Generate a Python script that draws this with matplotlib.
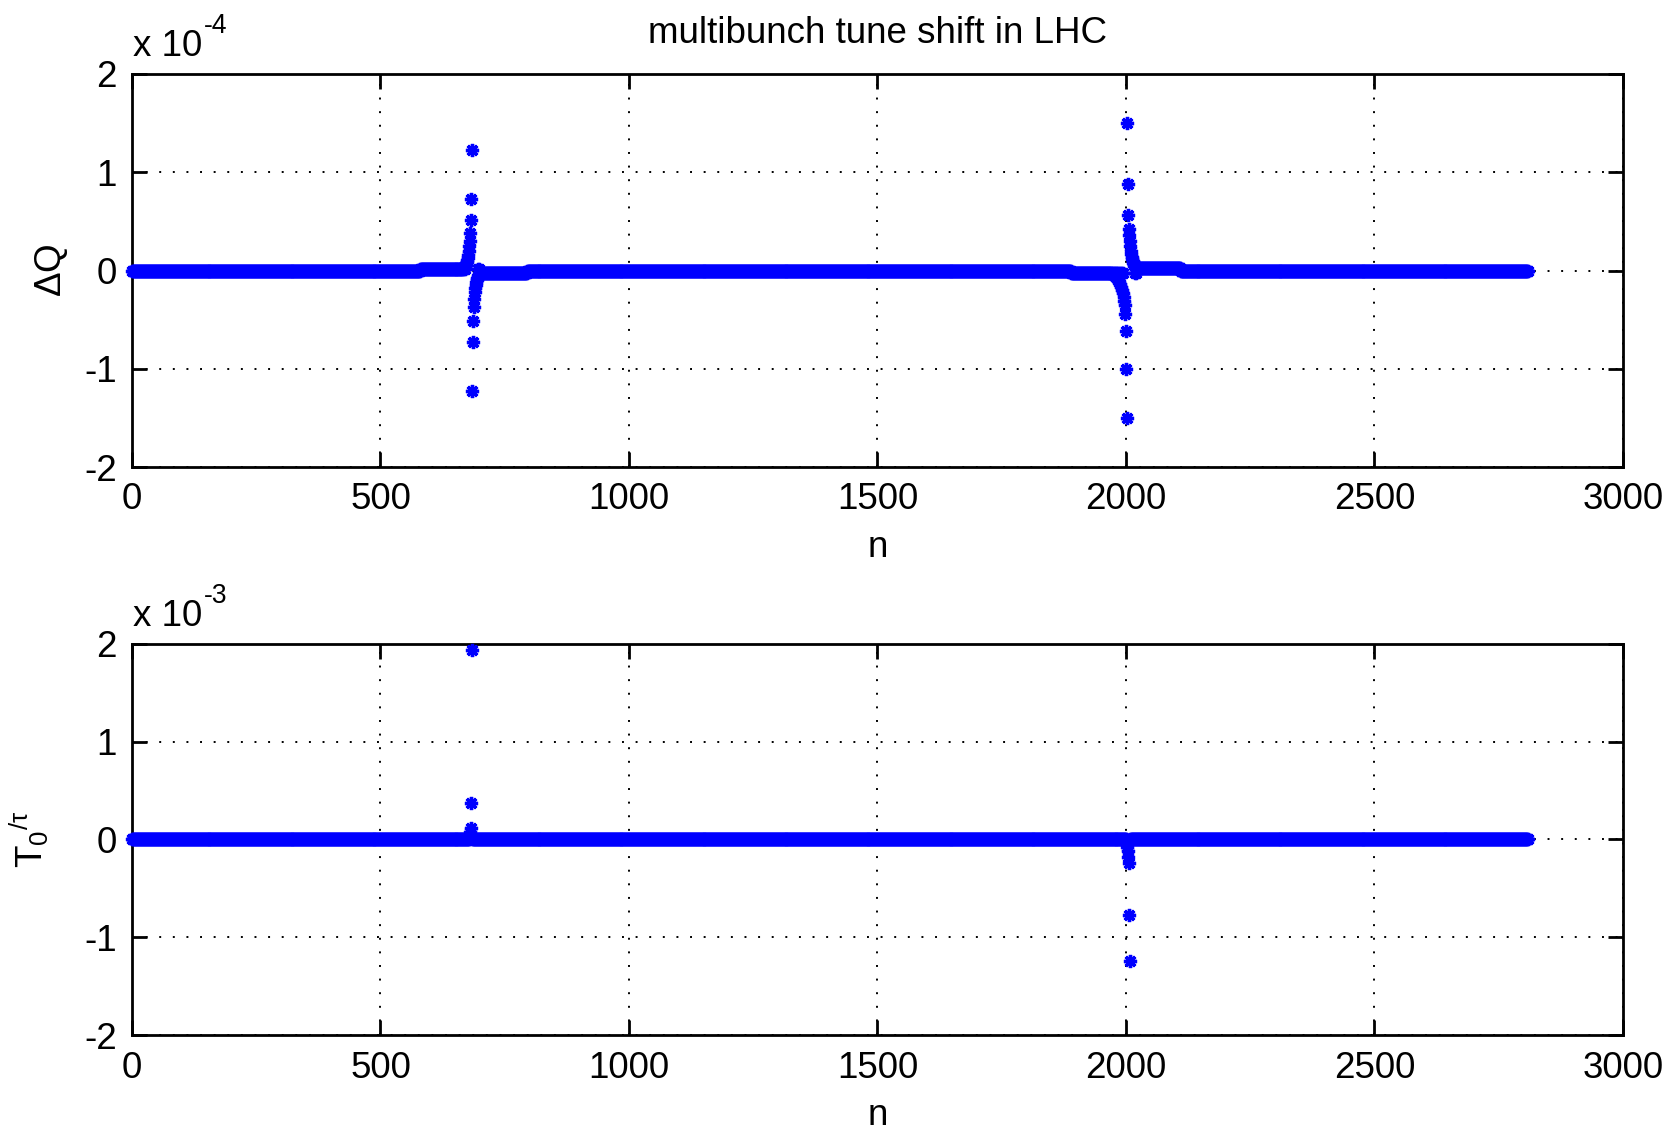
import numpy as np
import matplotlib
matplotlib.use("Agg")
import matplotlib.pyplot as plt
from matplotlib.ticker import FuncFormatter

plt.rcParams['font.family'] = ['Liberation Sans', 'DejaVu Sans']
plt.rcParams['mathtext.fontset'] = 'custom'
plt.rcParams['mathtext.rm'] = 'Liberation Sans'
plt.rcParams['mathtext.it'] = 'Liberation Sans'

N_BUNCH = 2808
FS = 26.5

# tune shift, units of 1e-4: plateaus (first bunch, level)
dq_step_start = [1, 580, 700, 795, 1890, 2022, 2110]
dq_step_level = [0.0, 0.02, -0.03, 0.0, -0.03, 0.03, 0.0]
# bunches close to the gaps
dq_spike_n = [666, 668, 670, 672, 673, 674, 675, 676, 677, 678, 679, 680, 681, 682, 683,
              684, 685, 686, 687, 688, 689, 690, 691, 692, 693, 694, 695, 696, 698,
              1972, 1975, 1978, 1980, 1982, 1984, 1986, 1988, 1990, 1992, 1994, 1996, 1997, 1998,
              1999, 2000, 2001, 2002,
              2003, 2004, 2005, 2006, 2007, 2008, 2009, 2010, 2011, 2012, 2013, 2014, 2015,
              2016, 2017, 2018, 2020]
dq_spike_v = [0.03, 0.04, 0.05, 0.06, 0.07, 0.09, 0.11, 0.13, 0.16, 0.20, 0.25, 0.30, 0.38, 0.51, 0.73,
              1.23, -1.23, -0.73, -0.51, -0.37, -0.29, -0.22, -0.18, -0.15, -0.12, -0.10, -0.08, -0.06, -0.045,
              -0.04, -0.05, -0.06, -0.07, -0.08, -0.10, -0.12, -0.14, -0.17, -0.20, -0.23, -0.27, -0.31, -0.35,
              -0.44, -0.62, -1.00, -1.50,
              1.50, 0.88, 0.56, 0.42, 0.36, 0.30, 0.25, 0.20, 0.17, 0.14, 0.12, 0.10, 0.08,
              0.07, 0.06, 0.05, 0.04]

# growth rate T0/tau, units of 1e-3
gr_spike_n = [680, 681, 682, 683, 684, 2002, 2003, 2004, 2005, 2006, 2007, 2008]
gr_spike_v = [0.04, 0.08, 0.12, 0.37, 1.93, -0.04, -0.08, -0.12, -0.18, -0.24, -0.77, -1.24]

n = np.arange(1, N_BUNCH + 1)
dq = np.zeros(N_BUNCH)
for s, lv in zip(dq_step_start, dq_step_level):
    dq[n >= s] = lv
for k, v in zip(dq_spike_n, dq_spike_v):
    dq[k - 1] = v
dq = dq * 1e-4

gr = np.zeros(N_BUNCH)
for k, v in zip(gr_spike_n, gr_spike_v):
    gr[k - 1] = v
gr = gr * 1e-3

fig = plt.figure(figsize=(16.79, 11.33), dpi=100)
ax0 = fig.add_axes([0.0786, 0.5878, 0.888, 0.3469])
ax1 = fig.add_axes([0.0786, 0.0861, 0.888, 0.3459])

star = (8, 2, 0)
for ax, y, scale, exp, ylab, lpad in [(ax0, dq, 1e-4, '-4', r'$\Delta$Q', 10),
                                      (ax1, gr, 1e-3, '-3', r'T$_0$$^{/\tau}$', 24)]:
    ax.plot(n, y, linestyle='none', marker=star, color='#0000ff',
            markersize=9.5, markeredgewidth=2.4, clip_on=False, zorder=3)
    ax.set_xlim(0, 3000)
    ax.set_ylim(-2 * scale, 2 * scale)
    ax.set_xticks(np.arange(0, 3001, 500))
    ax.set_yticks(np.arange(-2, 3) * scale)
    ax.yaxis.set_major_formatter(FuncFormatter(lambda v, p, s=scale: '%d' % round(v / s)))
    ax.grid(True, color='black', linestyle=(0, (1, 6)), linewidth=1.4)
    ax.tick_params(direction='in', length=11, width=2, labelsize=FS, pad=11,
                   top=True, right=True)
    for sp in ax.spines.values():
        sp.set_linewidth(2)
    ax.set_xlabel('n', fontsize=FS, labelpad=9)
    ax.set_ylabel(ylab, fontsize=FS, labelpad=lpad)
    t = ax.text(0.001, 1.025, 'x 10', transform=ax.transAxes,
                fontsize=FS, ha='left', va='bottom')
    ax.annotate(exp, xy=(1, 1), xycoords=t, xytext=(1, 2), textcoords='offset points',
                fontsize=FS * 0.72, ha='left', va='center')

ax0.set_title('multibunch tune shift in LHC', fontsize=FS, pad=22)

fig.savefig('out.png', dpi=100)
